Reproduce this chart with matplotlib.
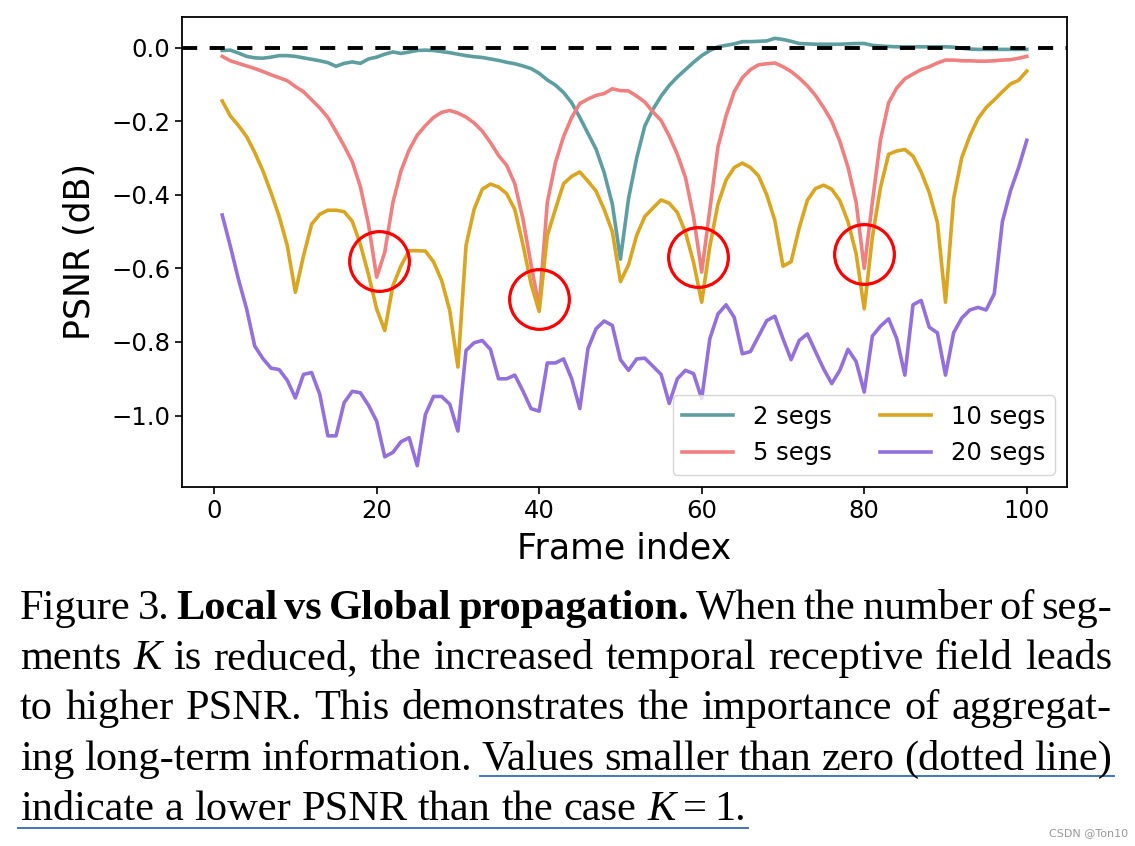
import matplotlib
matplotlib.use("Agg")
import matplotlib.pyplot as plt
from matplotlib.lines import Line2D

# ---------------- data ----------------
frames = list(range(1, 101))

segs2 = [-0.008, -0.007, -0.015, -0.024, -0.028, -0.029, -0.026, -0.022, -0.022, -0.024,
         -0.028, -0.032, -0.036, -0.041, -0.051, -0.043, -0.039, -0.043, -0.031, -0.026,
         -0.018, -0.012, -0.016, -0.012, -0.008, -0.007, -0.008, -0.011, -0.014, -0.018,
         -0.022, -0.025, -0.027, -0.031, -0.035, -0.040, -0.044, -0.050, -0.057, -0.070,
         -0.088, -0.102, -0.122, -0.150, -0.190, -0.233, -0.276, -0.340, -0.425, -0.575,
         -0.410, -0.300, -0.213, -0.168, -0.132, -0.103, -0.080, -0.060, -0.040, -0.022,
         -0.008, 0.002, 0.006, 0.010, 0.016, 0.016, 0.017, 0.018, 0.025, 0.022,
         0.017, 0.011, 0.010, 0.009, 0.009, 0.009, 0.009, 0.010, 0.011, 0.011,
         0.006, 0.004, 0.003, 0.002, 0.002, 0.002, 0.002, 0.002, 0.002, 0.002,
         0.001, -0.002, -0.004, -0.005, -0.005, -0.005, -0.005, -0.005, -0.005, -0.005]

segs5 = [-0.024, -0.036, -0.043, -0.050, -0.057, -0.065, -0.074, -0.082, -0.090, -0.106,
         -0.120, -0.142, -0.164, -0.190, -0.228, -0.267, -0.310, -0.378, -0.480, -0.624,
         -0.556, -0.421, -0.335, -0.278, -0.238, -0.212, -0.190, -0.176, -0.171, -0.178,
         -0.189, -0.205, -0.227, -0.258, -0.293, -0.320, -0.370, -0.465, -0.590, -0.705,
         -0.421, -0.313, -0.242, -0.190, -0.152, -0.140, -0.130, -0.125, -0.112, -0.117,
         -0.118, -0.132, -0.148, -0.175, -0.198, -0.240, -0.290, -0.353, -0.460, -0.610,
         -0.440, -0.270, -0.185, -0.120, -0.082, -0.060, -0.047, -0.044, -0.042, -0.052,
         -0.065, -0.083, -0.104, -0.130, -0.163, -0.200, -0.255, -0.325, -0.420, -0.600,
         -0.420, -0.250, -0.150, -0.110, -0.085, -0.072, -0.060, -0.052, -0.042, -0.034,
         -0.034, -0.036, -0.036, -0.037, -0.037, -0.036, -0.034, -0.033, -0.029, -0.024]

segs10 = [-0.145, -0.186, -0.212, -0.242, -0.285, -0.335, -0.394, -0.458, -0.538, -0.665,
          -0.566, -0.480, -0.453, -0.442, -0.442, -0.446, -0.472, -0.535, -0.617, -0.710,
          -0.769, -0.647, -0.593, -0.552, -0.552, -0.553, -0.582, -0.633, -0.715, -0.868,
          -0.538, -0.439, -0.385, -0.371, -0.379, -0.397, -0.440, -0.535, -0.642, -0.717,
          -0.511, -0.439, -0.370, -0.350, -0.338, -0.363, -0.390, -0.440, -0.500, -0.636,
          -0.590, -0.510, -0.459, -0.436, -0.414, -0.423, -0.448, -0.502, -0.584, -0.692,
          -0.540, -0.425, -0.360, -0.326, -0.314, -0.326, -0.349, -0.400, -0.470, -0.594,
          -0.582, -0.490, -0.415, -0.383, -0.374, -0.385, -0.416, -0.473, -0.560, -0.710,
          -0.515, -0.380, -0.290, -0.281, -0.277, -0.295, -0.338, -0.394, -0.475, -0.692,
          -0.410, -0.299, -0.240, -0.193, -0.163, -0.142, -0.120, -0.099, -0.089, -0.064]

segs20 = [-0.455, -0.540, -0.630, -0.710, -0.811, -0.845, -0.871, -0.875, -0.904, -0.952,
          -0.888, -0.883, -0.942, -1.055, -1.055, -0.965, -0.934, -0.938, -0.972, -1.015,
          -1.112, -1.100, -1.071, -1.060, -1.136, -0.997, -0.948, -0.948, -0.969, -1.042,
          -0.823, -0.802, -0.796, -0.820, -0.900, -0.900, -0.890, -0.933, -0.981, -0.988,
          -0.857, -0.857, -0.846, -0.900, -0.981, -0.818, -0.764, -0.743, -0.755, -0.848,
          -0.877, -0.846, -0.844, -0.866, -0.888, -0.967, -0.900, -0.877, -0.886, -0.954,
          -0.791, -0.724, -0.699, -0.733, -0.832, -0.826, -0.784, -0.742, -0.730, -0.791,
          -0.848, -0.796, -0.778, -0.826, -0.873, -0.913, -0.877, -0.820, -0.853, -0.936,
          -0.784, -0.757, -0.737, -0.791, -0.890, -0.699, -0.687, -0.760, -0.775, -0.890,
          -0.775, -0.735, -0.713, -0.706, -0.713, -0.669, -0.473, -0.389, -0.326, -0.252]

series_labels = ["2 segs", "5 segs", "10 segs", "20 segs"]
series_colors = ["cadetblue", "lightcoral", "goldenrod", "mediumpurple"]

circle_x = [20.3, 40.0, 59.6, 80.0]
circle_y = [-0.579, -0.683, -0.570, -0.561]

xticks = [0, 20, 40, 60, 80, 100]
yticks = [0.0, -0.2, -0.4, -0.6, -0.8, -1.0]
xlabel = "Frame index"
ylabel = "PSNR (dB)"

caption_lines = [
    [("Figure", "r", True), ("3.", "r", True), ("Local", "b", True), ("vs", "b", True),
     ("Global", "b", True), ("propagation.", "b", True), ("When", "r", True), ("the", "r", True),
     ("number", "r", True), ("of", "r", True), ("seg-", "r", True)],
    [("ments", "r", True), ("K", "i", True), ("is", "r", True), ("reduced,", "r", True),
     ("the", "r", True), ("increased", "r", True), ("temporal", "r", True), ("receptive", "r", True),
     ("field", "r", True), ("leads", "r", True)],
    [("to", "r", True), ("higher", "r", True), ("PSNR.", "r", True), ("This", "r", True),
     ("demonstrates", "r", True), ("the", "r", True), ("importance", "r", True), ("of", "r", True),
     ("aggregat-", "r", True)],
    [("ing", "r", True), ("long-term", "r", True), ("information.", "r", True), ("Values", "r", True),
     ("smaller", "r", True), ("than", "r", True), ("zero", "r", True), ("(dotted", "r", True),
     ("line)", "r", True)],
    [("indicate", "r", True), ("a", "r", True), ("lower", "r", True), ("PSNR", "r", True),
     ("than", "r", True), ("the", "r", True), ("case", "r", True), ("K", "i", True),
     ("=", "r", False), ("1.", "r", False)],
]
watermark = "CSDN @Ton10"

# ---------------- figure ----------------
W, H = 1135, 846
fig = plt.figure(figsize=(W / 100, H / 100), dpi=100)
ax = fig.add_axes([182 / W, 1 - 487 / H, (1067 - 182) / W, (487 - 17) / H])

for ys, lab, col in zip([segs2, segs5, segs10, segs20], series_labels, series_colors):
    ax.plot(frames, ys, color=col, lw=2.6, label=lab)

ax.axhline(0, color="black", lw=2.8, ls=(0, (3.9, 3.2)), zorder=3)

ax.plot(circle_x, circle_y, ls="none", marker="o", ms=43, mfc="none",
        mec="red", mew=2.3, zorder=4)

ax.set_xticks(xticks)
ax.set_yticks(yticks)
ax.tick_params(labelsize=17.5, width=1.2, length=5)
for s in ax.spines.values():
    s.set_linewidth(1.3)
ax.set_xlabel(xlabel, fontsize=25, labelpad=6)
ax.set_ylabel(ylabel, fontsize=25, labelpad=10)
ax.set_xlim(-3.95, 104.95)
ax.set_ylim(-1.194, 0.083)
ax.legend(loc="lower right", ncol=2, fontsize=17.5, handlelength=2.1,
          columnspacing=2.0)

# ---------------- caption ----------------
renderer = fig.canvas.get_renderer()
FS = 30.5
styles = {"r": dict(), "b": dict(fontweight="bold"), "i": dict(fontstyle="italic")}
baselines = [619, 669, 719, 770, 820]
LEFT, RIGHT = 20, 1112


def fx(x):
    return x / W


def fy(y):
    return 1 - y / H


placed = []
for li, (tokens, yb) in enumerate(zip(caption_lines, baselines)):
    items = []
    for word, st, sp in tokens:
        t = fig.text(0, fy(yb), word, fontsize=FS, family="Liberation Serif",
                     va="baseline", ha="left", **styles[st])
        w = t.get_window_extent(renderer).width
        items.append((t, w, sp))
    nat_space = FS * 100 / 72 * 0.25
    total_w = sum(w for _, w, _ in items)
    ngaps = sum(1 for i, (_, _, sp) in enumerate(items) if i > 0 and sp)
    if li < len(caption_lines) - 1:
        gap = (RIGHT - LEFT - total_w) / ngaps
    else:
        gap = nat_space
    x = LEFT
    xs = []
    for i, (t, w, sp) in enumerate(items):
        if i > 0:
            x += gap if sp else FS * 100 / 72 * 0.17
        t.set_x(fx(x))
        xs.append((x, x + w))
        x += w
    placed.append(xs)

ul_color = "#4472C4"
x0 = placed[3][3][0]
x1 = placed[3][-1][1]
fig.add_artist(Line2D([fx(x0 - 2), fx(x1 + 2)], [fy(776), fy(776)], color=ul_color, lw=1.4))
x0 = placed[4][0][0]
x1 = placed[4][-1][1]
fig.add_artist(Line2D([fx(x0 - 2), fx(x1 + 2)], [fy(828), fy(828)], color=ul_color, lw=1.4))

fig.text(fx(1128), fy(836), watermark, fontsize=8, color="#999999", ha="right", va="baseline")

fig.savefig("out.png", dpi=100)
